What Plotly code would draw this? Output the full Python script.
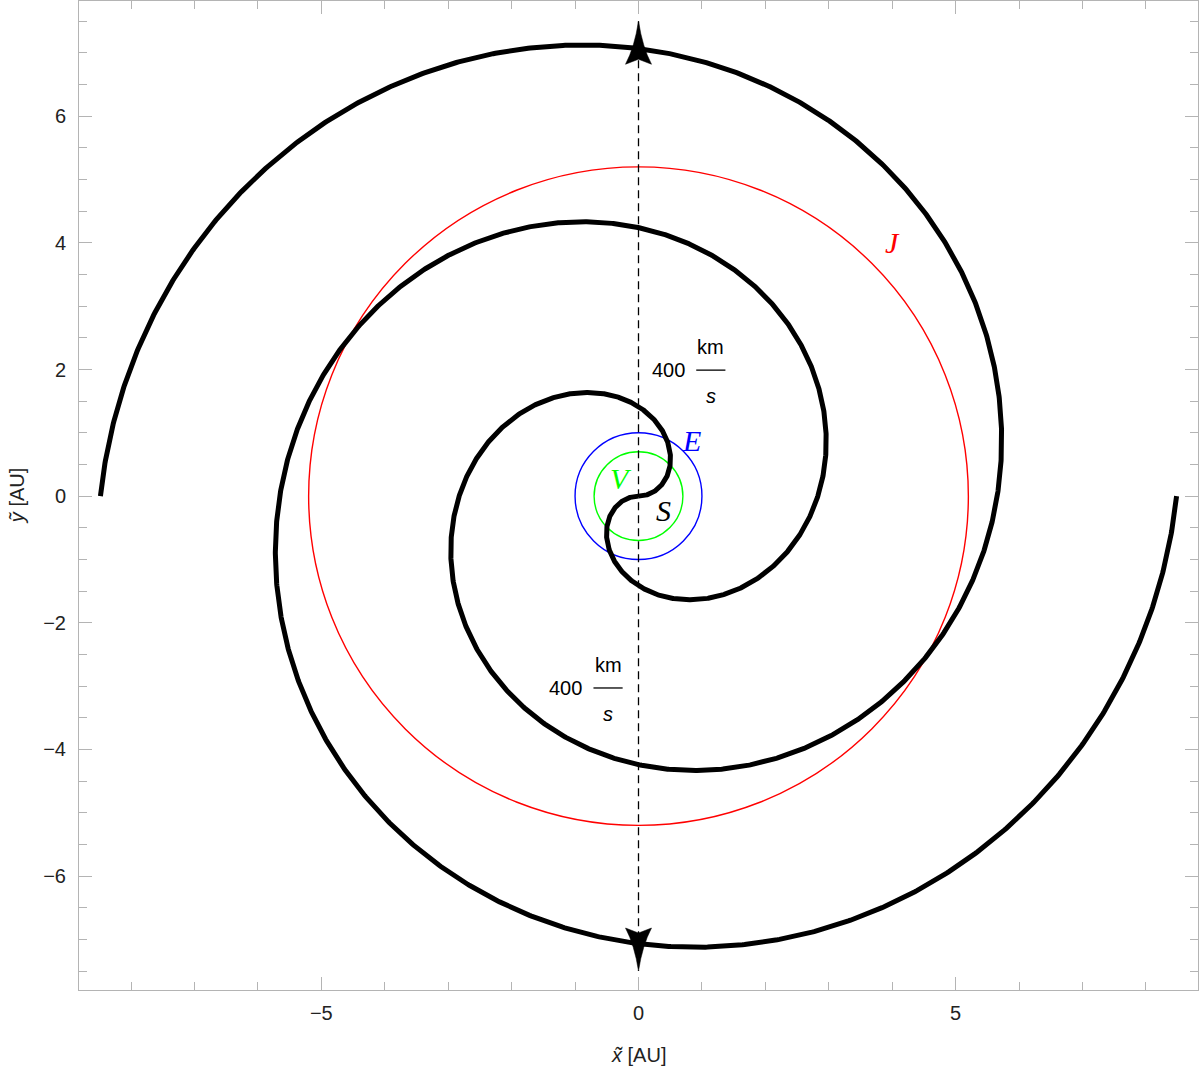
import numpy as np
import plotly.graph_objects as go

# ---------------- data ----------------
wind_speed_kms = 400                       # solar wind speed shown on the chart
spiral_rate_au_per_rad = 0.9               # Parker spiral r = a * phi
spiral_max_angle_rad = 3 * np.pi           # each arm makes 1.5 turns
spiral_start_angles_rad = [0.0, np.pi]     # the two arms
orbit_labels = ["V", "E", "J"]
orbit_radii_au = [0.7, 1.0, 5.2]
orbit_colors = ["#00ff00", "#0000ff", "#ff0000"]
sun_label = "S"
flow_arrow_tips_y = [7.5, -7.5]            # dashed flow line ends (AU)
x_major_ticks = [-5, 0, 5]
y_major_ticks = [-6, -4, -2, 0, 2, 4, 6]

# ---------------- figure ----------------
fig = go.Figure()

# orbits
for r, c in zip(orbit_radii_au, orbit_colors):
    fig.add_shape(type="circle", xref="x", yref="y", x0=-r, y0=-r, x1=r, y1=r,
                  line=dict(color=c, width=1.4), layer="below")

# spirals
phi = np.linspace(0, spiral_max_angle_rad, 2000)
rad = spiral_rate_au_per_rad * phi
for a0 in spiral_start_angles_rad:
    fig.add_trace(go.Scatter(x=rad * np.cos(phi + a0), y=rad * np.sin(phi + a0),
                             mode="lines", line=dict(color="black", width=5),
                             hoverinfo="skip", showlegend=False))

# dashed flow line
fig.add_trace(go.Scatter(x=[0, 0], y=flow_arrow_tips_y, mode="lines",
                         line=dict(color="black", width=1.3, dash="8px,5px"),
                         hoverinfo="skip", showlegend=False))

# arrowheads (pixel-sized, anchored at the tips)
up_path = "M0,0 Q-4,-26 -13,-43 L0,-38 L13,-43 Q4,-26 0,0 Z"
down_path = "M0,0 Q-4,26 -13,43 L0,38 L13,43 Q4,26 0,0 Z"
for tip in flow_arrow_tips_y:
    fig.add_shape(type="path", xref="x", yref="y", xsizemode="pixel", ysizemode="pixel",
                  xanchor=0, yanchor=tip, path=up_path if tip > 0 else down_path,
                  fillcolor="black", line=dict(color="black", width=0.5), layer="above")

serif = "Liberation Serif, Times New Roman, serif"
sans = "Liberation Sans, Arial, sans-serif"

# planet / sun labels
label_pos = {"V": (-0.27, 0.28), "E": (0.83, 0.88), "J": (4.0, 4.0)}
for lab, c in zip(orbit_labels, orbit_colors):
    x, y = label_pos[lab]
    fig.add_annotation(x=x, y=y, xref="x", yref="y", text=f"<i>{lab}</i>", showarrow=False,
                       font=dict(family=serif, size=30, color=c))
fig.add_annotation(x=0.39, y=-0.22, xref="x", yref="y", text=f"<i>{sun_label}</i>",
                   showarrow=False, font=dict(family=serif, size=30, color="black"))

# speed labels  400 km / s
speed_label_anchors = [(0.47, 1.99), (-1.15, -3.03)]
for (ax, ay) in speed_label_anchors:
    fig.add_annotation(x=ax, y=ay, xref="x", yref="y", text=str(wind_speed_kms),
                       showarrow=False, font=dict(family=sans, size=20, color="black"))
    fx = ax + 0.67
    fig.add_annotation(x=fx, y=ay, xref="x", yref="y", text="km", yshift=23,
                       showarrow=False, font=dict(family=sans, size=20, color="black"))
    fig.add_annotation(x=fx, y=ay, xref="x", yref="y", text="<i>s</i>", yshift=-26,
                       showarrow=False, font=dict(family=sans, size=20, color="black"))
    fig.add_shape(type="line", xref="x", yref="y", x0=fx - 0.23, x1=fx + 0.23, y0=ay, y1=ay,
                  line=dict(color="black", width=1.3))

# axis titles
fig.add_annotation(x=0, y=0, xref="x", yref="paper", yshift=-65, yanchor="middle",
                   xanchor="center", text="<i>x\u0303</i> [AU]",
                   showarrow=False, font=dict(family=sans, size=20, color="#222"))
fig.add_annotation(x=0, y=0, xref="paper", yref="y", xshift=-62, textangle=-90,
                   xanchor="center", yanchor="middle",
                   text="<i>y\u0303</i> [AU]", showarrow=False,
                   font=dict(family=sans, size=20, color="#222"))

frame = "#b4b4b4"
axis_common = dict(showgrid=False, zeroline=False, showline=True, linecolor=frame, linewidth=1,
                   mirror="ticks", ticks="inside", ticklen=13, tickwidth=1, tickcolor=frame,
                   tickfont=dict(family=sans, size=20, color="#222"))
fig.update_xaxes(range=[-8.82, 8.82], tickvals=x_major_ticks, ticklabelstandoff=5,
                 minor=dict(dtick=1, ticklen=8, tickcolor=frame, tickwidth=1, ticks="inside",
                            showgrid=False),
                 **axis_common)
fig.update_yaxes(range=[-7.80, 7.82], tickvals=y_major_ticks, ticklabelstandoff=8,
                 minor=dict(dtick=0.5, ticklen=8, tickcolor=frame, tickwidth=1, ticks="inside",
                            showgrid=False),
                 **axis_common)

fig.update_layout(width=1200, height=1070, margin=dict(l=79, r=2, t=1, b=80),
                  plot_bgcolor="white", paper_bgcolor="white", showlegend=False)

fig.write_html("out.html", config={"displayModeBar": False},
               post_script="document.body.style.margin='0';document.body.style.padding='0';"
                           "document.body.style.overflow='hidden';")
